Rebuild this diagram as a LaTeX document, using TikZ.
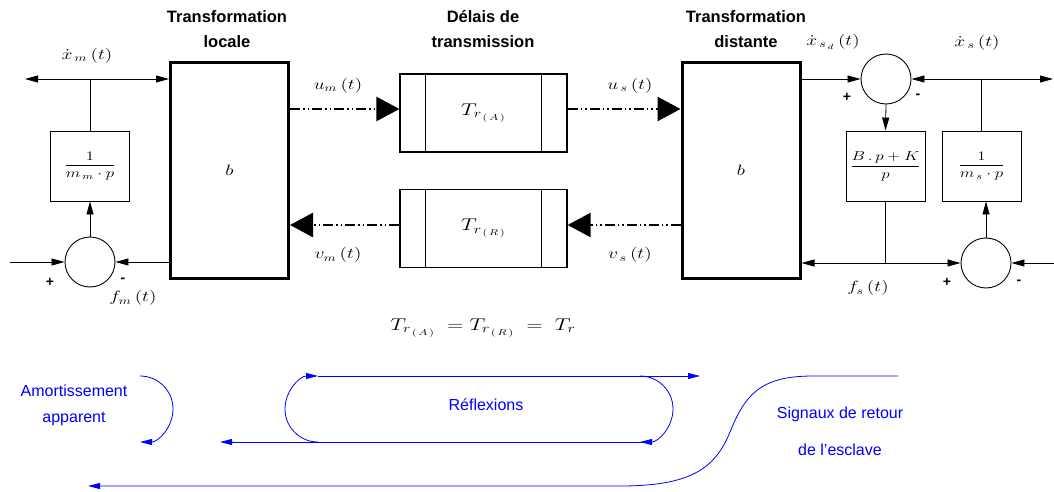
\RequirePackage{fix-cm}
\documentclass[tikz,border=0pt]{standalone}
\usepackage{amsmath}
\usepackage{graphicx}
\usepackage{fontspec}
\setsansfont{Liberation Sans}
\usetikzlibrary{arrows.meta}
\newcommand{\tra}{T_{r_{\,(\,A\,)}}}
\newcommand{\trr}{T_{r_{\,(\,R\,)}}}
\newcommand{\hsc}[1]{\scalebox{1.3}[1]{#1}}
\begin{document}
\begin{tikzpicture}[x=1pt,y=-1pt,
  sig/.style={draw, line width=0.8pt},
  arr/.style={sig, -{Triangle[length=13pt,width=7pt]}},
  thickbox/.style={draw, line width=3pt, minimum width=118pt, minimum height=216pt, inner sep=0pt, font=\fontsize{15}{17}\selectfont},
  tfbox/.style={draw, line width=0.9pt, minimum width=79pt, minimum height=70pt, inner sep=0pt, font=\fontsize{13}{15}\selectfont},
  sumc/.style={draw, circle, minimum size=50pt, inner sep=0pt, line width=0.9pt},
  delaybox/.style={draw, line width=1.2pt, minimum width=167pt, minimum height=78pt, inner sep=0pt, font=\fontsize{17}{20}\selectfont},
  dd/.style={line width=2.5pt, dash pattern=on 10pt off 3pt on 1.5pt off 3pt on 1.5pt off 3pt, -{Triangle[length=23pt,width=24pt]}},
  lbl/.style={inner sep=0pt, font=\fontsize{15}{17}\selectfont},
  pm/.style={inner sep=0pt, font=\sffamily\bfseries\fontsize{14}{16}\selectfont},
  title/.style={inner sep=0pt, align=center, font=\sffamily\bfseries\fontsize{16.5}{25}\selectfont},
  bluetxt/.style={inner sep=0pt, align=center, text=blue, font=\sffamily\fontsize{16}{26}\selectfont},
  bl/.style={draw=blue, line width=0.8pt},
  blarr/.style={bl, -{Triangle[length=12pt,width=6pt]}}
]
\useasboundingbox (0,0) rectangle (1054,492);

% titles
\node[title] (t1) at (227,29.5) {Transformation\\locale};
\node[title] (t2) at (483,29.5) {D\'elais de\\transmission};
\node[title] (t3) at (746,29.5) {Transformation\\distante};

% main blocks
\node[thickbox] (TL) at (229.5,170.5) {\hsc{$b$}};
\node[thickbox] (TR) at (741,170.5) {\hsc{$b$}};
\node[delaybox] (DA) at (483.5,113) {\raisebox{4pt}{\hsc{$\tra$}}};
\node[delaybox] (DR) at (483.5,228.5) {\raisebox{4pt}{\hsc{$\trr$}}};
\foreach \b in {DA,DR}{
  \draw[line width=1.2pt] ([xshift=26pt]\b.north west) -- ([xshift=26pt]\b.south west);
  \draw[line width=1.2pt] ([xshift=-26pt]\b.north east) -- ([xshift=-26pt]\b.south east);
}

% left loop
\node[tfbox] (Gm) at (90,166) {\hsc{$\dfrac{1}{m_{\,m}\cdot p}$}};
\node[sumc] (Sm) at (90,262) {};
\coordinate (jm) at (90,79);
\coordinate (xl) at (25,79);
\coordinate (fin) at (10,262);
\draw[arr] (jm) -- (xl);
\draw[arr] (jm) -- (TL.west |- jm);
\draw[sig] (jm) -- (Gm.north);
\draw[arr] (Sm.north) -- (Gm.south);
\draw[arr] (fin) -- (Sm.west);
\draw[arr] (TL.west |- Sm) -- (Sm.east);

% dash-dot transmissions
\coordinate (ua) at (0,109);
\coordinate (va) at (0,225);
\draw[dd] (TL.east |- ua) -- (DA.west |- ua);
\draw[dd] (DA.east |- ua) -- (TR.west |- ua);
\draw[dd] (TR.west |- va) -- (DR.east |- va);
\draw[dd] (DR.west |- va) -- (TL.east |- va);

% right loop
\node[sumc] (Sd) at (886,79) {};
\node[tfbox] (PI) at (885.5,166) {\hsc{$\dfrac{B\,.\,p+K}{p}$}};
\node[tfbox] (Ms) at (981.5,166) {\hsc{$\dfrac{1}{m_{\,s}\cdot p}$}};
\node[sumc] (Ss) at (986,263) {};
\coordinate (js) at (981.5,79);
\coordinate (xr) at (1053,79);
\coordinate (jf) at (885.5,263);
\coordinate (fsin) at (1054,263);
\draw[arr] (TR.east |- Sd) -- (Sd.west);
\draw[arr] (js) -- (Sd.east);
\draw[arr] (js) -- (xr);
\draw[sig] (js) -- (Ms.north);
\draw[arr] (Sd.south) -- (PI.north);
\draw[sig] (PI.south) -- (jf);
\draw[arr] (jf) -- (TR.east |- jf);
\draw[arr] (jf) -- (Ss.west);
\draw[arr] (Ss.north) -- (Ss.north |- Ms.south);
\draw[arr] (fsin) -- (Ss.east);

% signal labels
\node[lbl] (l1) at (87,56) {\hsc{$\dot{x}_{\,m}\,(t)$}};
\node[lbl] (l2) at (338,86) {\hsc{$u_{m}\,(t)$}};
\node[lbl] (l3) at (630,86) {\hsc{$u_{\,s}\,(t)$}};
\node[lbl] (l4) at (338,255) {\hsc{$v_{m}\,(t)$}};
\node[lbl] (l5) at (630,255) {\hsc{$v_{\,s}\,(t)$}};
\node[lbl] (l6) at (133,298) {\hsc{$f_{m}\,(t)$}};
\node[lbl] (l7) at (833,42) {\hsc{$\dot{x}_{\,s_{\,d}}\,(t)$}};
\node[lbl] (l8) at (977,43) {\hsc{$\dot{x}_{\,s}\,(t)$}};
\node[lbl] (l9) at (868,288) {\hsc{$f_{s}\,(t)$}};
\node[lbl, font=\fontsize{17}{20}\selectfont] (eq) at (483,328) {\hsc{$\tra\;=\trr\;=\;T_{r}$}};

% signs
\node[pm] (p1) at (50,282) {+};
\node[pm] (m1) at (123,280) {-};
\node[pm] (p2) at (847,97) {+};
\node[pm] (m2) at (918,96) {-};
\node[pm] (p3) at (947,282) {+};
\node[pm] (m3) at (1019,282) {-};

% blue annotations
\node[bluetxt] (am) at (74,405) {Amortissement\\apparent};
\draw[blarr] (140,376) arc (-90:90:33);

\node[bluetxt] (rf) at (486,405) {R\'eflexions};
\draw[blarr] (318,442) arc (90:270:33);
\draw[blarr] (318,376) -- (700,376);
\draw[blarr] (640,376) arc (-90:90:33);
\draw[blarr] (645,442) -- (220,442);

\node[bluetxt, font=\sffamily\fontsize{16}{37}\selectfont] (sr) at (840,431) {Signaux de retour\\de l'esclave};
\draw[blarr] (898,376) -- (813,376) .. controls (760,376) and (745,395) .. (730,432)
  .. controls (715,469) and (690,486) .. (620,486) -- (88,486);
\end{tikzpicture}
\end{document}
